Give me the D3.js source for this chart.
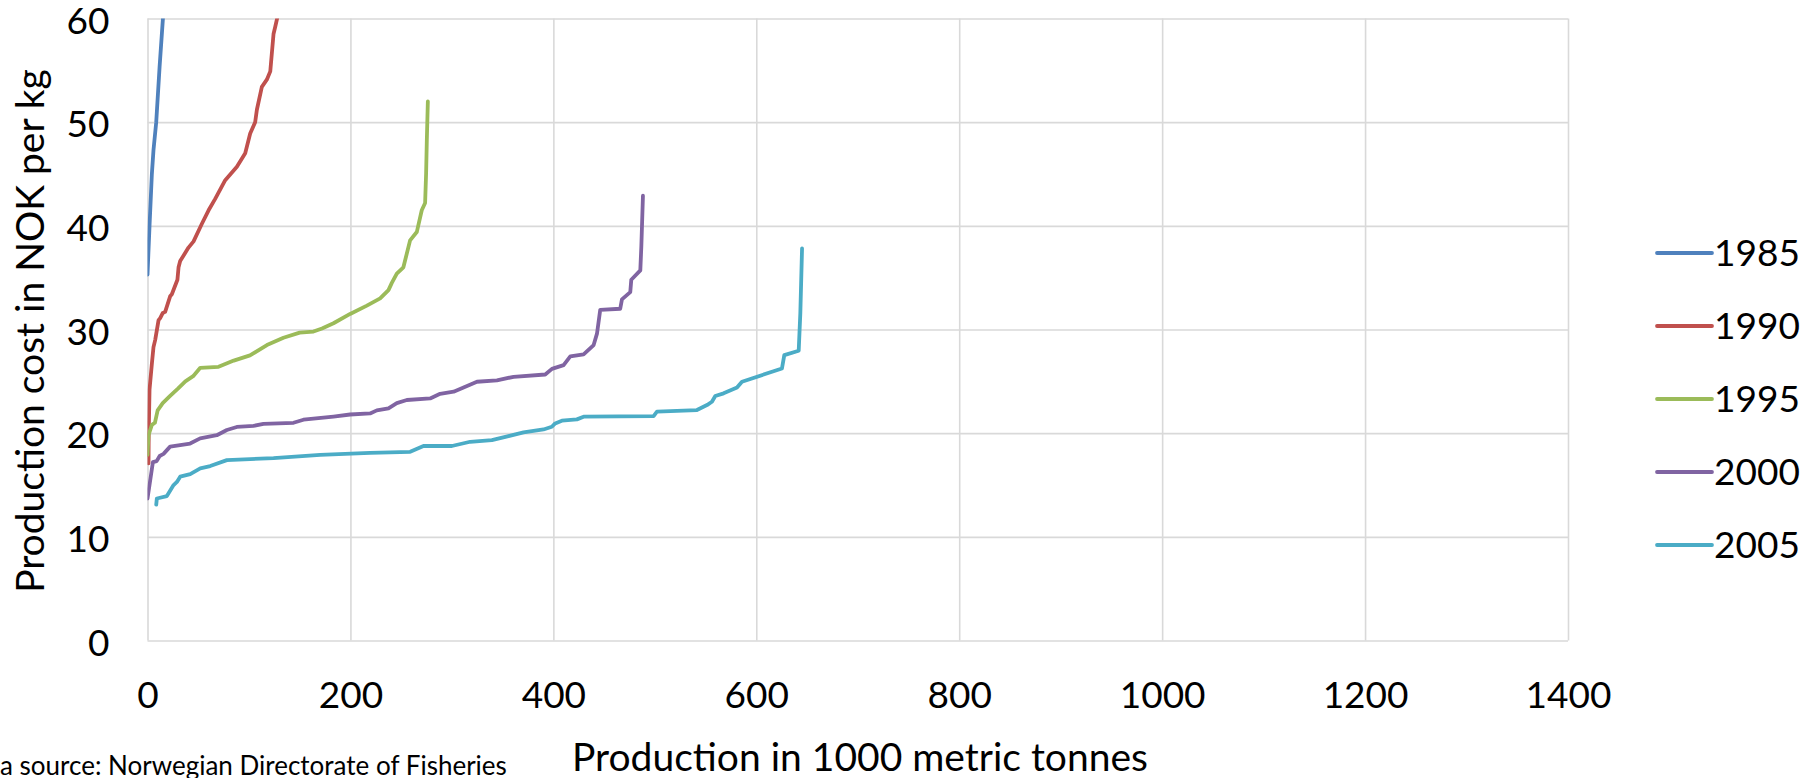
<!DOCTYPE html>
<meta charset="utf-8">
<script src="https://cdn.jsdelivr.net/npm/d3@7"></script>
<style>
  body { margin: 0; background: #ffffff; }
  svg text { font-family: Lato, "Open Sans", sans-serif; fill: #000; }
</style>

<!-- chart goes here -->
<div id="chart"></div>

<script>

// ---- data ----
var years  = ["1985", "1990", "1995", "2000", "2005"];
var colors = ["#4F81BD", "#C0504D", "#9BBB59", "#8064A2", "#4BACC6"];
var xTicks = [0, 200, 400, 600, 800, 1000, 1200, 1400];
var yTicks = [0, 10, 20, 30, 40, 50, 60];

// production (1000 t) and cost (NOK per kg) along each supply curve
var prod1985 = [0, 2, 4.3, 5.9, 8.6, 11.9, 15.2, 16];
var cost1985 = [35.3, 40, 45, 47.3, 50, 55.3, 60, 61.5];

var prod1990 = [1, 1.2, 2, 4.3, 5.9, 7.6, 10.9, 12.5, 15.1, 17.4, 22.3, 24, 29.5, 30.6, 32.2, 40.4, 45.4, 53.6, 60.2, 66.7, 73.3, 76.6, 88.1, 96.3, 101.2, 106.1, 107.8, 112.7, 117.6, 121, 124.2, 125.9, 128.2, 129.5];
var cost1990 = [17.1, 20, 24.2, 26.7, 28.3, 29.0, 30.9, 31.1, 31.6, 31.7, 33.2, 33.4, 34.8, 36.0, 36.6, 37.9, 38.5, 40.2, 41.5, 42.6, 43.8, 44.4, 45.7, 47.0, 48.9, 50.0, 51.2, 53.4, 54.1, 54.9, 58.5, 59.2, 60.2, 61];

var prod1995 = [0, 1, 4.3, 7.3, 10, 15, 22.3, 30, 37.3, 45, 52, 70, 85, 101, 117.7, 134, 150, 163.6, 172, 183.3, 199.7, 216.2, 229.3, 237.5, 240.8, 245.7, 252.2, 258.8, 265.4, 270.3, 273.6, 274.6, 275.3, 276.3];
var cost1995 = [17.9, 19.8, 20.8, 21.0, 22.2, 22.9, 23.6, 24.3, 25.0, 25.5, 26.3, 26.4, 27.0, 27.5, 28.5, 29.2, 29.7, 29.8, 30.1, 30.6, 31.5, 32.3, 33.0, 33.8, 34.5, 35.4, 36.0, 38.6, 39.4, 41.5, 42.2, 45.1, 48.3, 52.0];

var prod2000 = [0, 5.3, 9, 12, 15.8, 22.3, 42, 51.9, 68.3, 78.2, 88, 104.5, 114.3, 143.9, 153.7, 183.3, 199.7, 219.4, 226, 237.5, 245.7, 255.6, 278.6, 288.4, 301.7, 311.5, 324.7, 344.4, 360.8, 392, 398.6, 410.1, 416.7, 429.8, 439.7, 443, 446.2, 465.9, 467.6, 475.8, 476.8, 485.7, 486.7, 488.3];
var cost2000 = [13.7, 17.2, 17.3, 17.8, 18.0, 18.7, 19.0, 19.5, 19.8, 20.3, 20.6, 20.7, 20.9, 21.0, 21.3, 21.6, 21.8, 21.9, 22.2, 22.4, 22.9, 23.2, 23.35, 23.8, 24.0, 24.4, 24.96, 25.1, 25.44, 25.66, 26.2, 26.56, 27.4, 27.6, 28.5, 29.6, 31.9, 32.0, 32.9, 33.6, 34.8, 35.7, 38.0, 42.9];

var prod2005 = [8.6, 9.2, 19.1, 25.7, 29, 32.2, 42.1, 52, 61.8, 78.2, 124.2, 170.2, 219.4, 258.9, 272, 300, 318, 339.4, 370.6, 390.3, 398.5, 401.8, 408.4, 423.2, 429.8, 498.8, 502.1, 541.5, 551.4, 556.3, 559.6, 567.8, 581, 585.9, 625.3, 627.6, 641.8, 643.4, 645.1];
var cost2005 = [13.1, 13.7, 13.93, 14.99, 15.3, 15.8, 16.05, 16.6, 16.83, 17.4, 17.6, 17.9, 18.1, 18.2, 18.76, 18.76, 19.17, 19.33, 20.07, 20.36, 20.62, 20.94, 21.2, 21.33, 21.59, 21.65, 22.07, 22.23, 22.71, 23.03, 23.58, 23.84, 24.4, 24.96, 26.24, 27.53, 27.95, 31.55, 37.82];

var prods = [prod1985, prod1990, prod1995, prod2000, prod2005];
var costs = [cost1985, cost1990, cost1995, cost2000, cost2005];

// ---- layout ----
var W = 1818, H = 778;
var plot = {left: 147.5, top: 18.5, right: 1568, bottom: 640.5};
var tickFont = 37, titleFont = 39;
var grid = "#d9d9d9";

var svg = d3.select("#chart")
  .append("svg")
    .attr("width", W)
    .attr("height", H)
    .style("background-color", "#ffffff");

var x = d3.scaleLinear()
  .domain([0, 1400])
  .range([plot.left, plot.right]);

var y = d3.scaleLinear()
  .domain([0, 60])
  .range([plot.bottom, plot.top]);

// x axis + vertical gridlines
svg.append("g")
  .attr("transform", "translate(0," + plot.bottom + ")")
  .call(d3.axisBottom(x)
    .tickValues(xTicks)
    .tickFormat(d3.format("d"))
    .tickSize(-(plot.bottom - plot.top))
    .tickPadding(41))
  .call(function(g) { g.select(".domain").remove(); })
  .call(function(g) {
    g.selectAll(".tick line").attr("stroke", grid).attr("stroke-width", 1.6);
    g.selectAll(".tick text").style("font-size", tickFont + "px").attr("fill", "#000");
  });

// y axis + horizontal gridlines
svg.append("g")
  .attr("transform", "translate(" + plot.left + ",0)")
  .call(d3.axisLeft(y)
    .tickValues(yTicks)
    .tickSize(-(plot.right - plot.left))
    .tickPadding(38))
  .call(function(g) { g.select(".domain").remove(); })
  .call(function(g) {
    g.selectAll(".tick line").attr("stroke", grid).attr("stroke-width", 1.6);
    // labels sit a touch below their gridline in the original
    g.selectAll(".tick text")
      .attr("dy", "0.4em")
      .style("font-size", tickFont + "px")
      .attr("fill", "#000");
  });

// clip the curves that go above 60
svg.append("clipPath")
  .attr("id", "plotclip")
  .append("rect")
    .attr("x", plot.left)
    .attr("y", plot.top)
    .attr("width", plot.right - plot.left)
    .attr("height", plot.bottom - plot.top);

var line = d3.line()
  .x(function(d) { return x(d[0]); })
  .y(function(d) { return y(d[1]); });

svg.append("g")
  .attr("clip-path", "url(#plotclip)")
  .selectAll("path")
  .data(years)
  .enter()
  .append("path")
    .attr("d", function(d, i) { return line(d3.zip(prods[i], costs[i])); })
    .attr("fill", "none")
    .attr("stroke", function(d, i) { return colors[i]; })
    .attr("stroke-width", 3.8)
    .attr("stroke-linejoin", "round")
    .attr("stroke-linecap", "round");

// legend
var leg = svg.append("g")
  .selectAll("g")
  .data(years)
  .enter()
  .append("g")
    .attr("transform", function(d, i) { return "translate(1657," + (253 + i * 73) + ")"; });

leg.append("line")
  .attr("x1", 0)
  .attr("x2", 55)
  .attr("stroke", function(d, i) { return colors[i]; })
  .attr("stroke-width", 3.8)
  .attr("stroke-linecap", "round");

leg.append("text")
  .attr("x", 57)
  .attr("dy", "0.36em")
  .style("font-size", tickFont + "px")
  .text(function(d) { return d; });

// axis titles
svg.append("text")
  .attr("text-anchor", "middle")
  .attr("x", 860)
  .attr("y", 771)
  .style("font-size", titleFont + "px")
  .text("Production in 1000 metric tonnes");

svg.append("text")
  .attr("text-anchor", "middle")
  .attr("transform", "translate(44,331) rotate(-90)")
  .style("font-size", titleFont + "px")
  .text("Production cost in NOK per kg");

// source note, its start runs off the left edge like in the picture
var src = svg.append("text")
  .attr("y", 775)
  .style("font-size", "26px")
  .attr("fill", "#222")
  .text("Data source: Norwegian Directorate of Fisheries");
src.attr("x", -src.node().getSubStringLength(0, 3));

</script>
